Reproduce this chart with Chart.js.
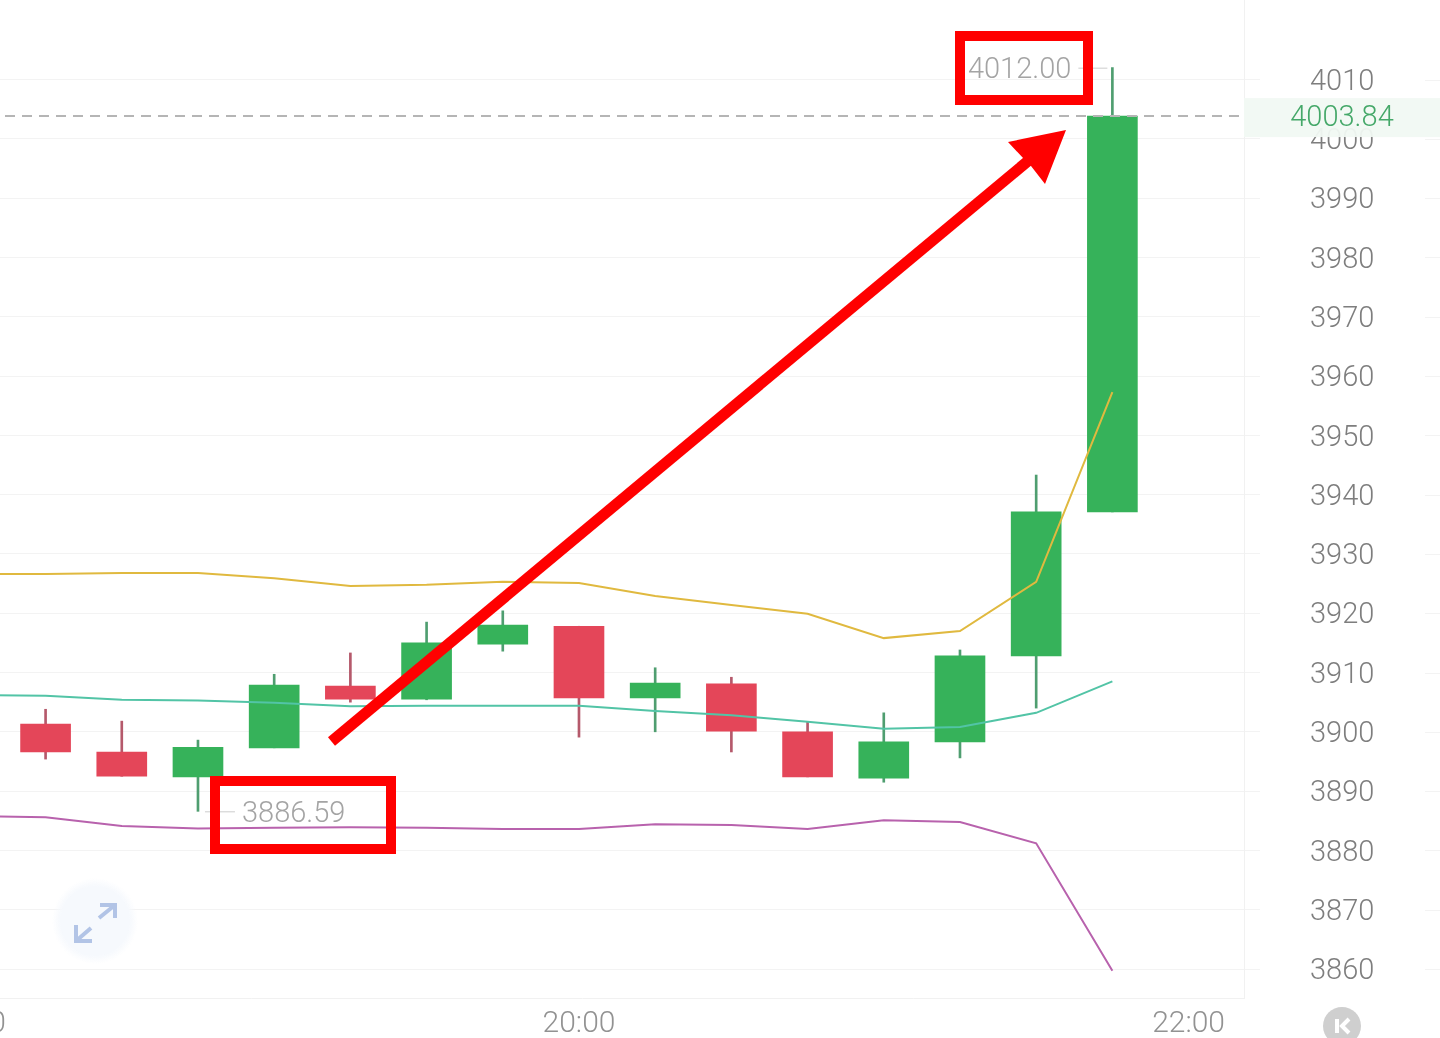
<!DOCTYPE html>
<html>
<head>
<meta charset="utf-8">
<title>K-line</title>
<script src="https://cdn.jsdelivr.net/npm/chart.js@4/dist/chart.umd.min.js"></script>
<style>
  html, body { margin: 0; padding: 0; width: 1440px; height: 1038px; overflow: hidden; background: #fff; }
  /* canvas starts left of the page so the 18:00 label gets cut like in the app */
  #wrap { position: absolute; left: -80px; top: 0; width: 1520px; height: 1038px; }
  #overlay { position: absolute; left: 0; top: 0; }
</style>
</head>
<body>
<div id="wrap"><canvas id="kline" width="1520" height="1038"></canvas></div>

<svg id="overlay" width="1440" height="1038">
  <defs>
    <radialGradient id="softDisc">
      <stop offset="0.8" stop-color="#f6f9fd"/>
      <stop offset="1" stop-color="#f6f9fd" stop-opacity="0"/>
    </radialGradient>
  </defs>
  <!-- expand button -->
  <circle cx="95" cy="921" r="43" fill="url(#softDisc)"/>
  <g fill="none" stroke="#b2c4e6" stroke-width="4">
    <path d="M99 918 L115 905 M100 905 L115 905 L115 918"/>
    <path d="M91 928 L76 941 M76 925 L76 941 L92 941"/>
  </g>
  <!-- K button -->
  <circle cx="1342" cy="1026" r="19" fill="#cfcfcf"/>
  <path d="M1337 1019 V1033" stroke="#fff" stroke-width="4" fill="none"/>
  <path d="M1349 1019 L1342 1026 L1349 1033" stroke="#fff" stroke-width="4" fill="none"/>
  <!-- hand drawn markup -->
  <g fill="none" stroke="#ff0000" stroke-width="10">
    <rect x="960" y="36" width="128" height="64"/>
    <rect x="215" y="781" width="176" height="68"/>
  </g>
  <path d="M331.5 741.5 L1028 161" stroke="#ff0000" stroke-width="11" fill="none"/>
  <polygon points="1066,130 1008,142 1024,159 1031,166 1045,184" fill="#ff0000"/>
</svg>

<script>
// minutes since midnight, 15 min candles
const candleTimes = [1095, 1110, 1125, 1140, 1155, 1170, 1185, 1200, 1215, 1230, 1245, 1260, 1275, 1290, 1305];
const opens  = [3901.3, 3896.6, 3892.4, 3897.3, 3907.7, 3905.5, 3914.8, 3917.8, 3905.7, 3908.1, 3900.0, 3892.2, 3898.3, 3912.8, 3937.1];
const closes = [3896.6, 3892.5, 3897.4, 3907.9, 3905.5, 3915.0, 3918.0, 3905.7, 3908.2, 3900.1, 3892.4, 3898.3, 3912.8, 3937.1, 4003.84];
const highs  = [3903.8, 3901.8, 3898.6, 3909.7, 3913.3, 3918.5, 3920.4, 3917.8, 3910.8, 3909.2, 3901.7, 3903.2, 3913.8, 3943.3, 4012.0];
const lows   = [3895.4, 3892.5, 3886.59, 3897.3, 3905.0, 3905.4, 3913.6, 3899.1, 3900.0, 3896.6, 3892.4, 3891.5, 3895.6, 3904.0, 3937.1];

// bollinger bands, one extra point before the first candle so the lines reach the left edge
const bandTimes = [1080, 1095, 1110, 1125, 1140, 1155, 1170, 1185, 1200, 1215, 1230, 1245, 1260, 1275, 1290, 1305];
const upper  = [3926.6, 3926.6, 3926.8, 3926.8, 3925.9, 3924.6, 3924.8, 3925.3, 3925.1, 3922.9, 3921.4, 3919.9, 3915.8, 3917.0, 3925.3, 3957.3];
const middle = [3906.2, 3906.1, 3905.4, 3905.3, 3904.9, 3904.3, 3904.4, 3904.4, 3904.4, 3903.5, 3902.8, 3901.7, 3900.5, 3900.8, 3903.2, 3908.5];
const lower  = [3885.8, 3885.6, 3884.1, 3883.7, 3883.8, 3883.9, 3883.8, 3883.6, 3883.6, 3884.4, 3884.3, 3883.6, 3885.1, 3884.8, 3881.2, 3859.7];

const priceTicks = [3860, 3870, 3880, 3890, 3900, 3910, 3920, 3930, 3940, 3950, 3960, 3970, 3980, 3990, 4000, 4010];
const timeTicks = [1080, 1200, 1320];
const lastPrice = 4003.84;

const UP = '#36b25a';
const DOWN = '#e44659';
const FONT = 'Roboto, sans-serif';

function hhmm(v) {
  return String(Math.floor(v / 60)).padStart(2, '0') + ':' + String(v % 60).padStart(2, '0');
}

function bandLine(values, color) {
  return {
    type: 'line',
    data: bandTimes.map((t, i) => ({ x: t, y: values[i] })),
    borderColor: color,
    borderWidth: 2,
    pointRadius: 0,
    tension: 0,
    order: 1,
  };
}

// last price tag, high / low labels and the right hand bits of the grid
const overlayPlugin = {
  id: 'klineOverlay',
  beforeDatasetsDraw(chart) {
    const { ctx, scales: { y }, width } = chart;
    ctx.save();
    ctx.fillStyle = '#f3f3f3';
    priceTicks.forEach(v => ctx.fillRect(width - 15, Math.round(y.getPixelForValue(v)), 15, 1));
    ctx.restore();
  },
  afterDraw(chart) {
    const { ctx, scales: { x, y }, chartArea, width } = chart;
    ctx.save();

    const py = y.getPixelForValue(lastPrice);
    ctx.strokeStyle = '#b5b5b5';
    ctx.lineWidth = 2;
    ctx.setLineDash([10, 7]);
    ctx.beginPath();
    ctx.moveTo(chartArea.left, py);
    ctx.lineTo(chartArea.right, py);
    ctx.stroke();
    ctx.setLineDash([]);

    ctx.fillStyle = 'rgba(241,249,243,0.95)';
    ctx.fillRect(chartArea.right, py - 18, width - chartArea.right, 39);
    ctx.fillStyle = '#45a869';
    ctx.font = '300 29px ' + FONT;
    ctx.textAlign = 'center';
    ctx.textBaseline = 'middle';
    ctx.fillText(lastPrice.toFixed(2), chartArea.right + 98, py + 3);

    // high and low of the visible candles
    const hi = Math.max(...highs);
    const lo = Math.min(...lows);
    const hiX = x.getPixelForValue(candleTimes[highs.indexOf(hi)]);
    const loX = x.getPixelForValue(candleTimes[lows.indexOf(lo)]);
    ctx.fillStyle = '#a4a4a4';
    ctx.strokeStyle = '#cccccc';
    ctx.lineWidth = 1;
    ctx.beginPath();
    ctx.moveTo(hiX - 5, y.getPixelForValue(hi) + 0.5);
    ctx.lineTo(hiX - 34, y.getPixelForValue(hi) + 0.5);
    ctx.moveTo(loX + 7, y.getPixelForValue(lo) + 0.5);
    ctx.lineTo(loX + 37, y.getPixelForValue(lo) + 0.5);
    ctx.stroke();
    ctx.textAlign = 'right';
    ctx.fillText(hi.toFixed(2), hiX - 41, y.getPixelForValue(hi) + 3);
    ctx.textAlign = 'left';
    ctx.fillText(lo.toFixed(2), loX + 44, y.getPixelForValue(lo) + 3);

    ctx.restore();
  },
};

new Chart(document.getElementById('kline'), {
  type: 'bar',
  data: {
    datasets: [
      {
        data: candleTimes.map((t, i) => ({ x: t, y: [Math.min(opens[i], closes[i]), Math.max(opens[i], closes[i])] })),
        backgroundColor: candleTimes.map((t, i) => (closes[i] >= opens[i] ? UP : DOWN)),
        barThickness: 50,
        grouped: false,
        order: 2,
      },
      {
        data: candleTimes.map((t, i) => ({ x: t, y: [lows[i], highs[i]] })),
        backgroundColor: candleTimes.map((t, i) => (closes[i] >= opens[i] ? '#4f9e70' : '#b5596b')),
        barThickness: 2,
        grouped: false,
        order: 3,
      },
      bandLine(upper, '#e0b93f'),
      bandLine(middle, '#52c4a6'),
      bandLine(lower, '#b862ad'),
    ],
  },
  options: {
    responsive: false,
    animation: false,
    layout: { padding: 0 },
    plugins: { legend: { display: false }, tooltip: { enabled: false } },
    scales: {
      x: {
        type: 'linear',
        offset: false,
        min: 1070.28,
        max: 1330.91,
        grid: { display: false },
        border: { color: '#f1f1f1', width: 1 },
        afterBuildTicks: s => { s.ticks = timeTicks.map(v => ({ value: v })); },
        afterFit: s => { s.height = 40; s.paddingLeft = 0; s.paddingRight = 0; },
        ticks: {
          autoSkip: false,
          maxRotation: 0,
          color: '#929292',
          padding: 0,
          font: { family: FONT, size: 30, weight: '300' },
          callback: v => hhmm(v),
        },
      },
      y: {
        position: 'right',
        min: 3855.11,
        max: 4023.41,
        beginAtZero: false,
        grid: { color: '#f3f3f3', lineWidth: 1, tickLength: 16 },
        border: { color: '#f1f1f1', width: 1 },
        afterBuildTicks: s => { s.ticks = priceTicks.map(v => ({ value: v })); },
        afterFit: s => { s.width = 196; s.paddingTop = 0; s.paddingBottom = 0; },
        ticks: {
          color: '#7e7e7e',
          crossAlign: 'center',
          padding: 50,
          labelOffset: 3,
          font: { family: FONT, size: 29, weight: '300' },
          callback: v => String(v),
        },
      },
    },
  },
  plugins: [overlayPlugin],
});
</script>
</body>
</html>
